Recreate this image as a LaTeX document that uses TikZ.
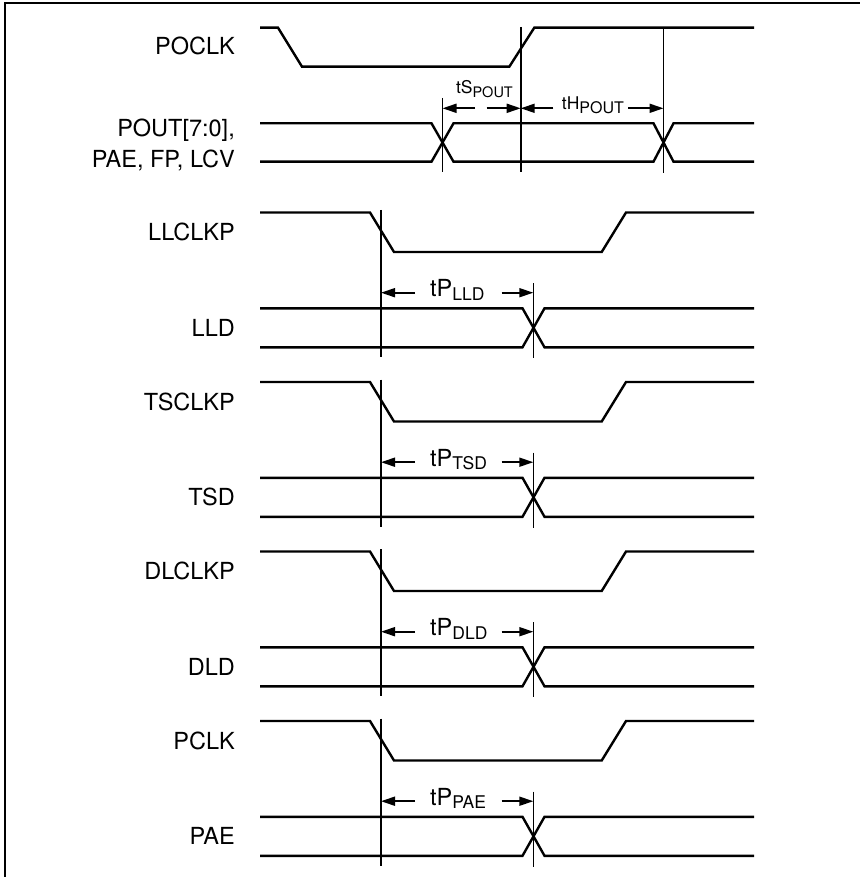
\documentclass[tikz,border=0pt]{standalone}
\usepackage{fontspec}
\setmainfont{TeX Gyre Heros}
\usetikzlibrary{arrows.meta}
\begin{document}
\begin{tikzpicture}[x=1pt,y=-1pt,
  sig/.style={line width=2.4pt, line join=miter},
  vline/.style={line width=1.6pt},
  lbl/.style={anchor=base east, inner sep=0pt, font=\fontsize{23.5}{26}\selectfont},
  dimarrow/.style={line width=1.8pt, -{Triangle[length=14pt,width=9pt]}},
  tlbl/.style={anchor=base west, inner sep=0pt, font=\fontsize{23.5}{26}\selectfont}]
\useasboundingbox (0,0) rectangle (860,877);
% frame
\draw[line width=2.2pt] (5.3,877) -- (5.3,3) -- (860,3);

% POCLK
\node[lbl] (poclk) at (235,54.3) {POCLK};
\draw[sig] (260,27.7) -- (278,27.7) -- (302,66.7) -- (509.3,66.7) -- (534.3,27.7) -- (754,27.7);
% POUT bus
\node[lbl] (pout1) at (235,136.3) {POUT[7:0],};
\node[lbl] (pout2) at (235,167.7) {PAE, FP, LCV};
\draw[sig] (260,123.3) -- (431.5,123.3) -- (453.5,161.7) -- (653.5,161.7) -- (673.5,123.3) -- (754,123.3);
\draw[sig] (260,161.7) -- (431.5,161.7) -- (453.5,123.3) -- (653.5,123.3) -- (673.5,161.7) -- (754,161.7);
% reference lines
\coordinate (v1t) at (442.5,98);  \coordinate (v1b) at (442.5,172);
\coordinate (v2t) at (520.7,27);  \coordinate (v2b) at (520.7,172);
\coordinate (v3t) at (663.5,27);  \coordinate (v3b) at (663.5,173);
\draw[vline] (v1t) -- (v1b);
\draw[vline] (v2t) -- (v2b);
\draw[vline] (v3t) -- (v3b);
% tS
\coordinate (s1) at (442.5,108.3); \coordinate (s2) at (520.7,108.3); \coordinate (s3) at (663.5,108.3);
\draw[dimarrow] (475,108.3) -- (s1);
\draw[dimarrow] (486.7,108.3) -- (s2);
\node[tlbl] (ts) at (456,94) {\fontsize{17.5}{17}\selectfont tS\raisebox{-4pt}{\fontsize{14.5}{14}\selectfont POUT}};
% tH
\draw[dimarrow] (553.3,108.3) -- (s2);
\draw[dimarrow] (628,108.3) -- (s3);
\node[tlbl] (th) at (561.7,109.3) {\fontsize{17.5}{17}\selectfont tH\raisebox{-4pt}{\fontsize{16}{16}\selectfont POUT}};

% lower groups
\foreach \k/\clk/\dat in {0/LLCLKP/LLD, 1/TSCLKP/TSD, 2/DLCLKP/DLD, 3/PCLK/PAE} {
  \pgfmathsetmacro\o{\k*169.5}
  \begin{scope}[shift={(0,\o)}]
    \node[lbl] (clk\k) at (235,240.6) {\clk};
    \node[lbl] (dat\k) at (235,336.2) {\dat};
    \draw[sig] (260,212.5) -- (370,212.5) -- (394,252) -- (601.7,252) -- (626,212.5) -- (754,212.5);
    \draw[sig] (260,308.3) -- (522.5,308.3) -- (544.5,347.3) -- (754,347.3);
    \draw[sig] (260,347.3) -- (522.5,347.3) -- (544.5,308.3) -- (754,308.3);
    \coordinate (a\k) at (381,292.7);
    \coordinate (b\k) at (533.3,292.7);
    \draw[vline] (381,210) -- (381,357);
    \draw[vline] (533.3,283) -- (533.3,358);
    \draw[dimarrow] (415,292.7) -- (a\k);
    \draw[dimarrow] (501.7,292.7) -- (b\k);
    \node[tlbl] (tp\k) at (430,296.7) {tP\raisebox{-3.5pt}{\fontsize{17.5}{17}\selectfont\dat}};
  \end{scope}
}
\end{tikzpicture}
\end{document}
